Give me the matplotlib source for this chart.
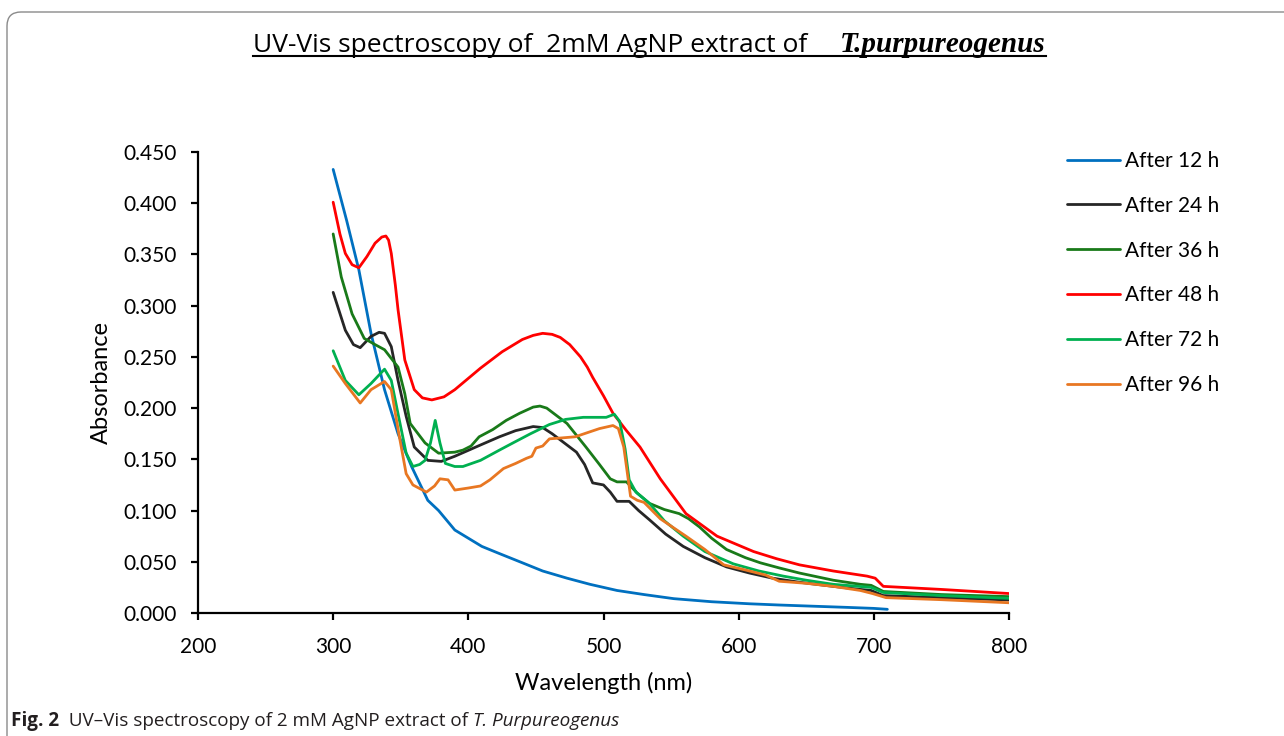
#!/usr/bin/env python3
import matplotlib
matplotlib.use("Agg")
import matplotlib.pyplot as plt
from matplotlib.patches import FancyBboxPatch
from matplotlib.lines import Line2D
from matplotlib.transforms import IdentityTransform


# wavelength (nm) / absorbance
NM_12 = [300, 310, 319, 328, 338, 348, 358, 370, 378, 390, 400, 410, 423, 440, 455, 473,
         490, 510, 530, 552, 580, 608, 630, 658, 680, 700, 710]
A_12 = [0.433, 0.383, 0.335, 0.273, 0.218, 0.175, 0.143, 0.110, 0.100, 0.081, 0.073, 0.065,
        0.058, 0.049, 0.041, 0.034, 0.028, 0.022, 0.018, 0.014, 0.011, 0.009, 0.0078,
        0.0065, 0.0055, 0.0045, 0.0036]

NM_24 = [300, 309, 315, 320, 328, 334, 338, 343, 348, 354, 360, 370, 380, 390, 409, 423, 435,
         448, 455, 462, 470, 480, 486, 492, 500, 505, 510, 519, 526, 534, 546, 559, 575,
         591, 608, 625, 645, 670, 690, 698, 707, 750, 800]
A_24 = [0.313, 0.276, 0.262, 0.259, 0.270, 0.274, 0.273, 0.260, 0.227, 0.192, 0.162, 0.149,
        0.148, 0.153, 0.164, 0.172, 0.178, 0.182, 0.181, 0.175, 0.167, 0.157, 0.145, 0.127,
        0.125, 0.118, 0.109, 0.109, 0.100, 0.091, 0.077, 0.065, 0.054, 0.045, 0.039, 0.034,
        0.030, 0.026, 0.023, 0.022, 0.017, 0.015, 0.0127]

NM_36 = [300, 306, 314, 323, 331, 338, 348, 353, 357, 368, 378, 390, 396, 402, 408, 418,
         428, 438, 448, 453, 458, 465, 473, 487, 497, 505, 510, 517, 525, 534, 545, 556, 563,
         571, 580, 591, 605, 616, 630, 645, 670, 690, 698, 707, 750, 800]
A_36 = [0.370, 0.328, 0.292, 0.268, 0.262, 0.257, 0.240, 0.214, 0.185, 0.166, 0.156, 0.157,
        0.159, 0.163, 0.172, 0.179, 0.188, 0.195, 0.201, 0.202, 0.200, 0.193, 0.185, 0.162,
        0.145, 0.131, 0.128, 0.128, 0.117, 0.107, 0.101, 0.097, 0.092, 0.084, 0.073, 0.062,
        0.054, 0.049, 0.044, 0.039, 0.032, 0.028, 0.027, 0.021, 0.018, 0.016]

NM_48 = [300, 305, 309, 314, 319, 325, 331, 336, 339, 341, 343, 346, 348, 353, 360, 366,
         373, 382, 390, 409, 425, 440, 448, 455, 462, 468, 475, 483, 488, 492, 500, 507, 517,
         527, 542, 561, 584, 611, 628, 645, 670, 695, 701, 707, 750, 800]
A_48 = [0.401, 0.370, 0.351, 0.340, 0.337, 0.348, 0.361, 0.367, 0.368, 0.364, 0.351, 0.320,
        0.296, 0.247, 0.218, 0.210, 0.208, 0.211, 0.218, 0.239, 0.255, 0.267, 0.271, 0.273,
        0.272, 0.269, 0.262, 0.250, 0.240, 0.230, 0.212, 0.195, 0.178, 0.162, 0.131, 0.097,
        0.075, 0.060, 0.053, 0.047, 0.041, 0.036, 0.034, 0.026, 0.023, 0.019]

NM_72 = [300, 309, 319, 328, 338, 343, 349, 354, 359, 364, 368, 372, 375.5, 379, 383, 390,
         396, 409, 423, 433, 446, 460, 472, 485, 502, 508, 512, 516, 519, 524, 534, 545,
         559, 575, 596, 615, 633, 650, 670, 698, 707, 750, 800]
A_72 = [0.256, 0.227, 0.213, 0.224, 0.238, 0.227, 0.188, 0.156, 0.143, 0.145, 0.149, 0.166,
        0.188, 0.166, 0.146, 0.143, 0.143, 0.149, 0.159, 0.166, 0.175, 0.184, 0.189, 0.191,
        0.191, 0.194, 0.187, 0.160, 0.130, 0.118, 0.107, 0.090, 0.075, 0.060, 0.048, 0.041,
        0.036, 0.032, 0.028, 0.025, 0.020, 0.017, 0.0143]

NM_96 = [300, 309, 320, 328, 338, 343, 349, 354, 359, 369, 375, 379, 385, 390, 400, 409,
         416, 426, 435, 443, 447, 450, 455, 460, 470, 479, 488, 497, 507, 511, 515, 520,
         525, 530, 542, 561, 575, 589, 605, 620, 630, 650, 670, 690, 699, 709, 750, 800]
A_96 = [0.241, 0.224, 0.205, 0.218, 0.226, 0.218, 0.172, 0.136, 0.125, 0.118, 0.124, 0.131,
        0.130, 0.120, 0.122, 0.124, 0.130, 0.141, 0.146, 0.151, 0.153, 0.161, 0.163, 0.170,
        0.171, 0.172, 0.176, 0.180, 0.183, 0.180, 0.162, 0.114, 0.110, 0.108, 0.092, 0.075,
        0.062, 0.047, 0.042, 0.037, 0.031, 0.029, 0.026, 0.022, 0.019, 0.015, 0.013, 0.010]

LABELS = ["After 12 h", "After 24 h", "After 36 h", "After 48 h", "After 72 h", "After 96 h"]
COLORS = ["#0070C0", "#262626", "#197A19", "#FF0000", "#00B050", "#E87722"]

W, H = 1284, 736


def main():
    plt.rcParams['font.family'] = ['Lato', 'DejaVu Sans']
    fig = plt.figure(figsize=(W / 100, H / 100), dpi=100)
    ax = fig.add_axes([198 / W, 1 - 613 / H, 811 / W, 461 / H])

    series = [(NM_12, A_12), (NM_24, A_24), (NM_36, A_36),
              (NM_48, A_48), (NM_72, A_72), (NM_96, A_96)]
    for (x, y), lab, col in zip(series, LABELS, COLORS):
        ax.plot(x, y, color=col, lw=2.0, label=lab, solid_joinstyle='round',
                solid_capstyle='round')

    ax.set_xlim(200, 800)
    ax.set_ylim(0, 0.45)
    ax.set_xticks(range(200, 801, 100))
    ax.set_yticks([i * 0.05 for i in range(10)])
    ax.set_yticklabels(["%.3f" % (i * 0.05) for i in range(10)])
    for s in ("top", "right"):
        ax.spines[s].set_visible(False)
    for s in ("left", "bottom"):
        ax.spines[s].set_linewidth(1.6)
    ax.tick_params(direction='out', length=5, width=1.6, labelsize=15, pad=10)
    ax.tick_params(axis='x', pad=12)

    ax.set_xlabel("Wavelength (nm)", fontsize=17)
    ax.set_ylabel("Absorbance", fontsize=17)
    ax.xaxis.set_label_coords(0.5, -0.128)
    ax.yaxis.set_label_coords(-0.106, 0.5)

    fig.legend(loc='upper left', bbox_to_anchor=(1067 / W, 1 - 151 / H), frameon=False,
               fontsize=15, handlelength=2.55, handletextpad=0.25, labelspacing=1.19,
               borderpad=0, borderaxespad=0)

    # title: two fonts, underlined
    fig.text(253 / W, 1 - 52 / H, "UV-Vis spectroscopy of  2mM AgNP extract of",
             fontsize=19, family=['Open Sans', 'DejaVu Sans'], ha='left', va='baseline')
    fig.text(1046 / W, 1 - 52 / H, "T.purpureogenus", fontsize=21,
             family=['Liberation Serif', 'DejaVu Serif'], style='italic',
             weight='bold', ha='right', va='baseline')
    fig.add_artist(Line2D([253 / W, 1046 / W], [1 - 56 / H, 1 - 56 / H],
                          transform=fig.transFigure, color='black', lw=1.5))

    # caption, placed piece by piece
    fig.canvas.draw()
    r = fig.canvas.get_renderer()
    xpix = 11
    ybase = 1 - 726 / H
    parts = [("Fig. 2", dict(weight='bold')),
             ("  UV\u2013Vis spectroscopy of 2 mM AgNP extract of ", {}),
             ("T. Purpureogenus", dict(style='italic'))]
    for txt, kw in parts:
        t = fig.text(xpix / W, ybase, txt, fontsize=13.6, family=['Open Sans', 'DejaVu Sans'],
                     color='#231f20', ha='left', va='baseline', **kw)
        xpix += t.get_window_extent(r).width

    # rounded page frame
    frame = FancyBboxPatch((7, -40), W + 60, H - 12 + 40,
                           boxstyle="round,pad=0,rounding_size=14",
                           transform=IdentityTransform(), fill=False,
                           edgecolor='#8a8a8a', lw=1.0)
    fig.add_artist(frame)

    fig.savefig("out.png", dpi=100)


if __name__ == '__main__':
    main()
